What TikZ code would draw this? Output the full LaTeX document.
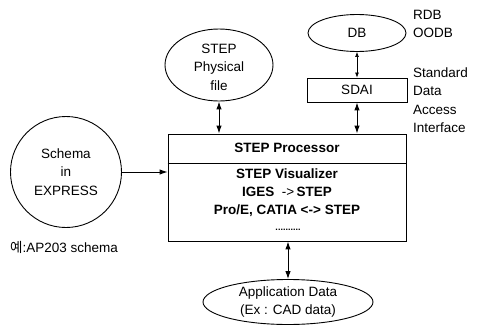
\documentclass[tikz,border=0pt]{standalone}
\usepackage{fontspec}
\setmainfont{Liberation Sans}
\newfontfamily\krfont{Noto Sans CJK KR}
\usetikzlibrary{shapes.geometric,arrows.meta}
\begin{document}
\begin{tikzpicture}[x=1pt,y=-1pt,
  font=\fontsize{13.5}{18.5}\selectfont,
  every node/.style={inner sep=0pt},
  bubble/.style={draw, ellipse, line width=0.9pt},
  boxed/.style={draw, line width=0.9pt},
  link/.style={{Latex[length=8pt,width=5.5pt]}-{Latex[length=8pt,width=5.5pt]}, line width=1pt},
  thinlink/.style={{Latex[length=5pt,width=4pt]}-{Latex[length=5pt,width=4pt]}, line width=0.7pt},
  feed/.style={-{Latex[length=8pt,width=5.5pt]}, line width=0.9pt},
  bold/.style={font=\fontsize{13.5}{18.5}\selectfont\bfseries}]
\useasboundingbox (0,0) rectangle (483,327);

% STEP Physical file
\node[bubble, minimum width=108pt, minimum height=72pt] (spf) at (219,65) {};
\node[align=center] (spft) at (219,67) {STEP\\Physical\\file};

% DB and SDAI
\node[bubble, minimum width=98pt, minimum height=37pt] (db) at (357,33) {DB};
\node[boxed, minimum width=100pt, minimum height=24pt] (sdai) at (357,90) {SDAI};
\node[anchor=west, align=left] (dbk) at (413,24) {RDB\\OODB};
\node[anchor=west, align=left] (sdaik) at (413,100) {Standard\\Data\\Access\\Interface};

% Schema
\node[draw, circle, line width=0.9pt, minimum size=111pt] (schema) at (66,172) {};
\node[align=center] (schemat) at (66,172) {Schema\\in\\EXPRESS};
\node[anchor=west] (ex) at (10,247) {{\krfont 예}:AP203 schema};

% Processor box
\node[boxed, minimum width=238pt, minimum height=107pt] (proc) at (287,187.5) {};
\draw[line width=0.9pt] ([yshift=-30pt]proc.north west) -- ([yshift=-30pt]proc.north east);
\node[bold] (title) at (287,148) {STEP Processor};
\node[bold] (l1) at (287,174) {STEP Visualizer};
\node[bold] (l2) at (287,192) {IGES \ {\mdseries -{}>}\,STEP};
\node[bold] (l3) at (287,211) {Pro/E, CATIA <-{}> STEP};
\node (l4) at (288,230) {\fontsize{9}{9}\selectfont\bfseries ..........};

% Application data
\node[bubble, minimum width=170pt, minimum height=45pt] (app) at (288,302) {};
\node[align=center] (appt) at (288,302) {Application Data\\(Ex : CAD data)};

% connectors
\draw[link] (spf.south) -- (spf.south |- proc.north);
\draw[link] (sdai.south) -- (sdai.south |- proc.north);
\draw[thinlink] (db.south) -- (sdai.north);
\draw[feed] (schema.east) -- (schema.east -| proc.west);
\draw[link] (proc.south -| app.north) -- (app.north);
\end{tikzpicture}
\end{document}
